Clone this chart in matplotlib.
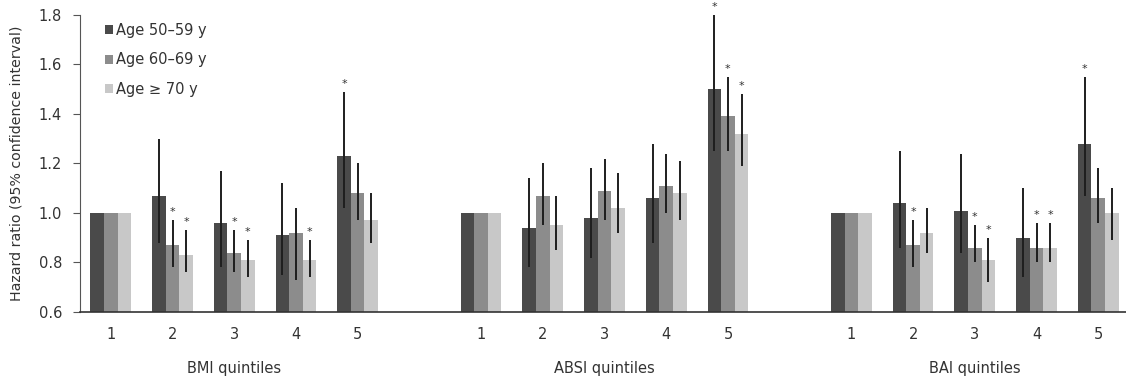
import numpy as np
import matplotlib
matplotlib.use('Agg')
import matplotlib.pyplot as plt
from matplotlib.patches import Patch

# Datos: BMI, ABSI, BAI (quintiles 1-5 cada uno)
grupos = ['BMI quintiles', 'ABSI quintiles', 'BAI quintiles']
quintiles = ['1', '2', '3', '4', '5']
edades = ['Age 50\u201359 y', 'Age 60\u201369 y', 'Age \u2265 70 y']

hr_50 = [1.00, 1.07, 0.96, 0.91, 1.23,
         1.00, 0.94, 0.98, 1.06, 1.50,
         1.00, 1.04, 1.01, 0.90, 1.28]
lo_50 = [np.nan, 0.88, 0.78, 0.75, 1.02,
         np.nan, 0.78, 0.82, 0.88, 1.25,
         np.nan, 0.86, 0.84, 0.74, 1.07]
hi_50 = [np.nan, 1.30, 1.17, 1.12, 1.49,
         np.nan, 1.14, 1.18, 1.28, 1.80,
         np.nan, 1.25, 1.24, 1.10, 1.55]
st_50 = [0, 0, 0, 0, 1,
         0, 0, 0, 0, 1,
         0, 0, 0, 0, 1]

hr_60 = [1.00, 0.87, 0.84, 0.92, 1.08,
         1.00, 1.07, 1.09, 1.11, 1.39,
         1.00, 0.87, 0.86, 0.86, 1.06]
lo_60 = [np.nan, 0.78, 0.76, 0.73, 0.97,
         np.nan, 0.95, 0.97, 1.00, 1.25,
         np.nan, 0.78, 0.80, 0.80, 0.96]
hi_60 = [np.nan, 0.97, 0.93, 1.02, 1.20,
         np.nan, 1.20, 1.22, 1.24, 1.55,
         np.nan, 0.97, 0.95, 0.96, 1.18]
st_60 = [0, 1, 1, 0, 0,
         0, 0, 0, 0, 1,
         0, 1, 1, 1, 0]

hr_70 = [1.00, 0.83, 0.81, 0.81, 0.97,
         1.00, 0.95, 1.02, 1.08, 1.32,
         1.00, 0.92, 0.81, 0.86, 1.00]
lo_70 = [np.nan, 0.76, 0.74, 0.74, 0.88,
         np.nan, 0.85, 0.92, 0.97, 1.19,
         np.nan, 0.84, 0.72, 0.80, 0.89]
hi_70 = [np.nan, 0.93, 0.89, 0.89, 1.08,
         np.nan, 1.07, 1.16, 1.21, 1.48,
         np.nan, 1.02, 0.90, 0.96, 1.10]
st_70 = [0, 1, 1, 1, 0,
         0, 0, 0, 0, 1,
         0, 0, 1, 1, 0]

colores = ['#4a4a4a', '#8c8c8c', '#c8c8c8']
gris_texto = '#333333'

# Posiciones: 5 barras por grupo, hueco de un lugar entre grupos
pos = np.array([g * 6 + q for g in range(3) for q in range(5)], dtype=float)
ancho = 0.22

fig, ax = plt.subplots(figsize=(11.26, 3.84), dpi=100)
fig.subplots_adjust(left=0.071, right=1.0, top=0.961, bottom=0.1875)

series = [(hr_50, lo_50, hi_50, st_50),
          (hr_60, lo_60, hi_60, st_60),
          (hr_70, lo_70, hi_70, st_70)]

for k, (hr, lo, hi, st) in enumerate(series):
    x = pos + (k - 1) * ancho
    hr = np.array(hr)
    lo = np.array(lo)
    hi = np.array(hi)
    ax.bar(x, hr - 0.6, bottom=0.6, width=ancho, color=colores[k],
           edgecolor='none', zorder=2)
    ax.vlines(x, lo, hi, color='#1e1e1e', linewidth=1.4, zorder=3)
    for xi, h, s in zip(x, hi, st):
        if s:
            ax.text(xi, h + 0.012, '*', ha='center', va='bottom',
                    fontsize=8, color=gris_texto)

ax.set_ylim(0.6, 1.8)
ax.set_xlim(-0.5, 16.45)
yt = np.arange(0.6, 1.81, 0.2)
ax.set_yticks(yt)
ax.set_yticklabels(['%.1f' % v for v in yt], fontsize=10.5)
ax.set_xticks(pos)
ax.set_xticklabels(quintiles * 3, fontsize=10.5)
ax.tick_params(axis='x', length=0, pad=11, labelcolor=gris_texto)
ax.tick_params(axis='y', length=5, width=0.8, colors='#555555',
               labelcolor=gris_texto, pad=8)

for s in ['top', 'right']:
    ax.spines[s].set_visible(False)
ax.spines['left'].set_color('#555555')
ax.spines['bottom'].set_color('#333333')
ax.spines['bottom'].set_linewidth(1.2)

for g, nombre in enumerate(grupos):
    ax.text(g * 6 + 2, -0.189, nombre, transform=ax.get_xaxis_transform(),
            ha='center', va='center', fontsize=10.5, color=gris_texto)

ax.set_ylabel('Hazard ratio (95% confidence interval)', fontsize=10.2,
              color=gris_texto)
ax.yaxis.set_label_coords(-0.054, 0.5)

manejadores = [Patch(facecolor=c, edgecolor='none') for c in colores]
ax.legend(manejadores, edades, loc='upper left', bbox_to_anchor=(0.011, 1.018),
          frameon=False, fontsize=10.5, handlelength=0.55, handleheight=0.55,
          handletextpad=0.25, labelspacing=1.0, labelcolor=gris_texto)

plt.savefig('out.png', dpi=100)
